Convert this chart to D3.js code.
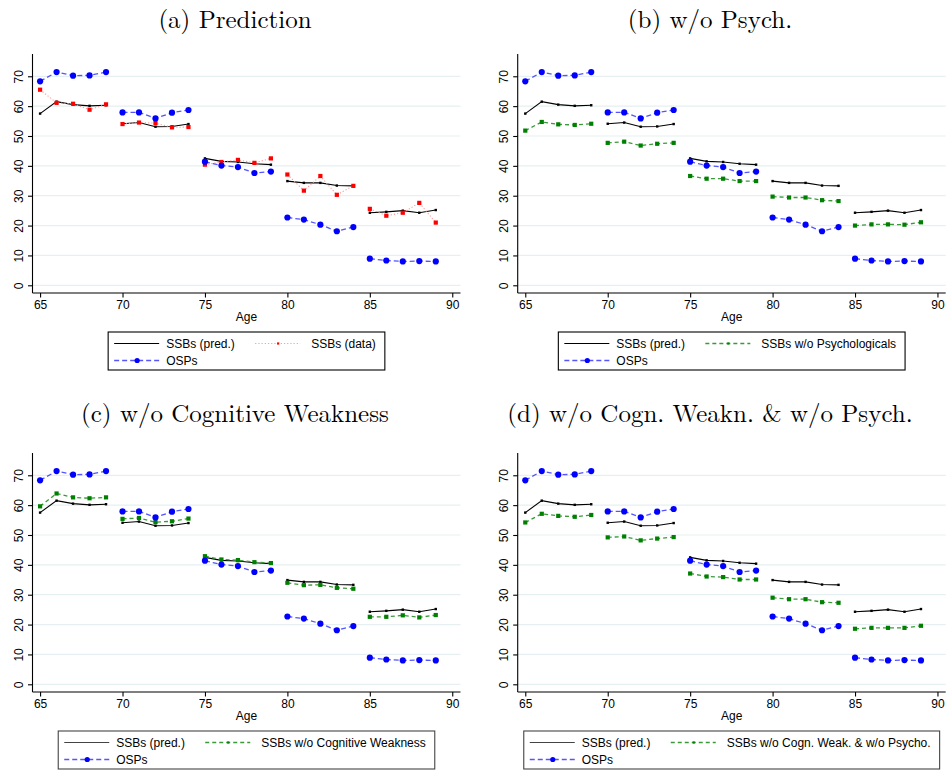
<!DOCTYPE html>
<html>
<head>
<meta charset="utf-8">
<script src="https://cdn.jsdelivr.net/npm/d3@7"></script>
<style>
  html, body { margin: 0; padding: 0; background: #fff; }
  svg { display: block; }
</style>
</head>
<body>
<svg id="chart" width="947" height="770"></svg>
<script>
// Ages on the horizontal axis, drawn in five-year blocks
const ages = [65, 66, 67, 68, 69, 70, 71, 72, 73, 74, 75, 76, 77, 78, 79, 80, 81, 82, 83, 84, 85, 86, 87, 88, 89];
const blockStarts = [65, 70, 75, 80, 85];

// Series values (percent)
const osps = [68.3, 71.4, 70.2, 70.3, 71.4, 57.9, 57.9, 55.9, 57.8, 58.7, 41.4, 40.1, 39.6, 37.6, 38.1, 22.7, 22.0, 20.3, 18.1, 19.5, 8.9, 8.3, 8.0, 8.1, 8.0];
const ssbPred = [57.5, 61.5, 60.5, 60.1, 60.3, 54.1, 54.5, 53.1, 53.2, 54.0, 42.5, 41.5, 41.3, 40.7, 40.4, 34.9, 34.3, 34.3, 33.4, 33.3, 24.3, 24.6, 25.0, 24.3, 25.2];
const ssbData = [65.5, 61.1, 60.8, 58.8, 60.6, 54.0, 54.5, 54.3, 52.9, 53.0, 40.4, 41.3, 42.0, 41.0, 42.5, 37.1, 31.7, 36.6, 30.3, 33.3, 25.6, 23.3, 24.3, 27.6, 21.0];
const ssbNoPsych = [51.8, 54.7, 53.9, 53.7, 54.1, 47.7, 48.1, 46.8, 47.4, 47.7, 36.6, 35.7, 35.7, 34.9, 34.9, 29.7, 29.4, 29.4, 28.5, 28.2, 20.0, 20.4, 20.4, 20.3, 21.1];
const ssbNoCogn = [59.6, 63.9, 62.6, 62.3, 62.6, 55.4, 55.7, 54.3, 54.6, 55.5, 42.9, 41.8, 41.6, 40.9, 40.6, 34.0, 33.2, 33.3, 32.3, 32.0, 22.6, 22.6, 23.1, 22.4, 23.2];
const ssbNoBoth = [54.2, 57.1, 56.4, 56.1, 56.7, 49.2, 49.5, 48.2, 48.8, 49.3, 37.1, 36.1, 35.9, 35.1, 35.1, 29.0, 28.5, 28.5, 27.5, 27.3, 18.6, 18.9, 18.9, 18.9, 19.6];

// Axis ticks
const xTicks = [65, 70, 75, 80, 85, 90];
const yTicks = [0, 10, 20, 30, 40, 50, 60, 70];

// Panel titles and legend labels
const titles = ["(a) Prediction", "(b) w/o Psych.", "(c) w/o Cognitive Weakness", "(d) w/o Cogn. Weakn. & w/o Psych."];
const predLabel = "SSBs (pred.)";
const ospLabel = "OSPs";
const compareLabels = ["SSBs (data)", "SSBs w/o Psychologicals", "SSBs w/o Cognitive Weakness", "SSBs w/o Cogn. Weak. & w/o Psycho."];
const compareSeries = [ssbData, ssbNoPsych, ssbNoCogn, ssbNoBoth];

const svg = d3.select("#chart");
svg.append("rect").attr("width", 947).attr("height", 770).attr("fill", "#fff");

const sans = "'Liberation Sans', Arial, Helvetica, sans-serif";
const serif = "'Latin Modern Roman', 'CMU Serif', 'Liberation Serif', 'Times New Roman', serif";

// Line styles
const styles = {
  pred:  { line: "#000", width: 1.1, dash: null, marker: "square", mfill: "#000", msize: 2.4 },
  osp:   { line: "#5555ff", width: 1.3, dash: "5,3", marker: "circle", mfill: "#0000ff", msize: 3.1 },
  data:  { line: "#ff9a9a", width: 1.1, dash: "1.2,2", marker: "square", mfill: "#ff0000", msize: 4.2 },
  green: { line: "#3a9a3a", width: 1.3, dash: "4,3", marker: "square", mfill: "#008000", msize: 4.2 }
};

const plotW = 428;
const plotH = 239;

const panels = [
  { x0: 0,   left: 32.5,  top: 54,  titleY: 27.5 },
  { x0: 475, left: 517.7, top: 54,  titleY: 27.5 },
  { x0: 0,   left: 32.5,  top: 453, titleY: 422 },
  { x0: 475, left: 517.7, top: 453, titleY: 422 }
];

function blockOf(age) {
  let b = blockStarts[0];
  blockStarts.forEach(s => { if (age >= s) b = s; });
  return b;
}

function drawSeries(g, x, y, values, st) {
  const pts = ages.map((a, i) => ({ age: a, v: values[i], block: blockOf(a) }));
  const byBlock = d3.group(pts, d => d.block);
  const line = d3.line().x(d => x(d.age)).y(d => y(d.v));
  byBlock.forEach(seg => {
    g.append("path")
      .attr("d", line(seg))
      .attr("fill", "none")
      .attr("stroke", st.line)
      .attr("stroke-width", st.width)
      .attr("stroke-dasharray", st.dash);
  });
  drawMarkers(g, pts.map(d => [x(d.age), y(d.v)]), st);
}

function drawMarkers(g, coords, st) {
  coords.forEach(([cx, cy]) => {
    if (st.marker === "circle") {
      g.append("circle").attr("cx", cx).attr("cy", cy).attr("r", st.msize).attr("fill", st.mfill);
    } else {
      g.append("rect")
        .attr("x", cx - st.msize / 2).attr("y", cy - st.msize / 2)
        .attr("width", st.msize).attr("height", st.msize)
        .attr("fill", st.mfill);
    }
  });
}

panels.forEach((p, k) => {
  const g = svg.append("g");
  const x = d3.scaleLinear().domain([64.54, 90.5]).range([p.left, p.left + plotW]);
  const y = d3.scaleLinear().domain([-2.58, 77.46]).range([p.top + plotH, p.top]);
  const bottom = p.top + plotH;

  // Title
  g.append("text")
    .attr("x", p.x0 + 235).attr("y", p.titleY)
    .attr("text-anchor", "middle")
    .attr("font-family", serif).attr("font-size", 25)
    .attr("fill", "#000")
    .text(titles[k]);

  // Horizontal grid lines
  g.selectAll(null).data(yTicks).enter().append("line")
    .attr("x1", p.left).attr("x2", p.left + plotW)
    .attr("y1", d => y(d)).attr("y2", d => y(d))
    .attr("stroke", "#e6eff1").attr("stroke-width", 1.2);

  // Y axis
  const yAxis = d3.axisLeft(y).tickValues(yTicks).tickSize(4.5).tickPadding(6).tickFormat(d3.format("d"));
  const ya = g.append("g").attr("transform", `translate(${p.left},0)`).call(yAxis);
  ya.select(".domain").attr("stroke", "#000").attr("stroke-width", 1.1)
    .attr("d", `M0,${p.top}V${bottom}`);
  ya.selectAll(".tick line").attr("stroke", "#000").attr("stroke-width", 1.1);
  ya.selectAll(".tick text")
    .attr("font-family", sans).attr("font-size", 12).attr("fill", "#000")
    .attr("x", null).attr("dy", null)
    .attr("text-anchor", "middle")
    .attr("transform", "translate(-10,0) rotate(-90)");

  // X axis
  const xAxis = d3.axisBottom(x).tickValues(xTicks).tickSize(4.5).tickPadding(3).tickFormat(d3.format("d"));
  const xa = g.append("g").attr("transform", `translate(0,${bottom})`).call(xAxis);
  xa.select(".domain").attr("d", `M${p.left},0H${p.left + plotW}`).attr("stroke", "#000").attr("stroke-width", 1.1);
  xa.selectAll(".tick line").attr("stroke", "#000").attr("stroke-width", 1.1);
  xa.selectAll(".tick text").attr("font-family", sans).attr("font-size", 12).attr("fill", "#000");

  // Axis title
  g.append("text")
    .attr("x", p.left + plotW / 2).attr("y", bottom + 28)
    .attr("text-anchor", "middle")
    .attr("font-family", sans).attr("font-size", 12).attr("fill", "#000")
    .text("Age");

  // Series
  const cmpStyle = k === 0 ? styles.data : styles.green;
  const plotG = g.append("g");
  drawSeries(plotG, x, y, ssbPred, styles.pred);
  drawSeries(plotG, x, y, compareSeries[k], cmpStyle);
  drawSeries(plotG, x, y, osps, styles.osp);

  // Legend
  const lg = g.append("g");
  const colW = 141;
  const sampleW = 45;
  const tmp = lg.append("text").attr("font-family", sans).attr("font-size", 12).text(compareLabels[k]);
  const cmpTextW = tmp.node().getComputedTextLength();
  tmp.remove();
  const boxW = 6 + colW + sampleW + 11 + cmpTextW + 9;
  const boxLeft = p.left + plotW / 2 - boxW / 2;
  const boxTop = bottom + 39;
  const boxH = 38;
  lg.append("rect")
    .attr("x", boxLeft).attr("y", boxTop).attr("width", boxW).attr("height", boxH)
    .attr("fill", "#fff").attr("stroke", k >= 2 ? "#444" : "#000").attr("stroke-width", 1.1);

  const entries = [
    { label: predLabel, st: styles.pred, col: 0, row: 0, gap: 7 },
    { label: compareLabels[k], st: cmpStyle, col: 1, row: 0, gap: 11 },
    { label: ospLabel, st: styles.osp, col: 0, row: 1, gap: 7 }
  ];
  entries.forEach(e => {
    const sx = boxLeft + 6 + e.col * colW;
    const cy = boxTop + 11.5 + e.row * 17;
    lg.append("line")
      .attr("x1", sx).attr("x2", sx + sampleW).attr("y1", cy).attr("y2", cy)
      .attr("stroke", e.st === styles.pred && k >= 2 ? "#444" : e.st.line)
      .attr("stroke-width", e.st.width)
      .attr("stroke-dasharray", e.st.dash);
    if (e.st !== styles.pred) {
      const ms = Object.assign({}, e.st, { msize: e.st.marker === "circle" ? 2.6 : 2.2 });
      drawMarkers(lg, [[sx + sampleW / 2 + 0.5, cy]], ms);
    }
    lg.append("text")
      .attr("x", sx + sampleW + e.gap).attr("y", cy + 4.3)
      .attr("font-family", sans).attr("font-size", 12).attr("fill", "#000")
      .text(e.label);
  });
});
</script>
</body>
</html>
